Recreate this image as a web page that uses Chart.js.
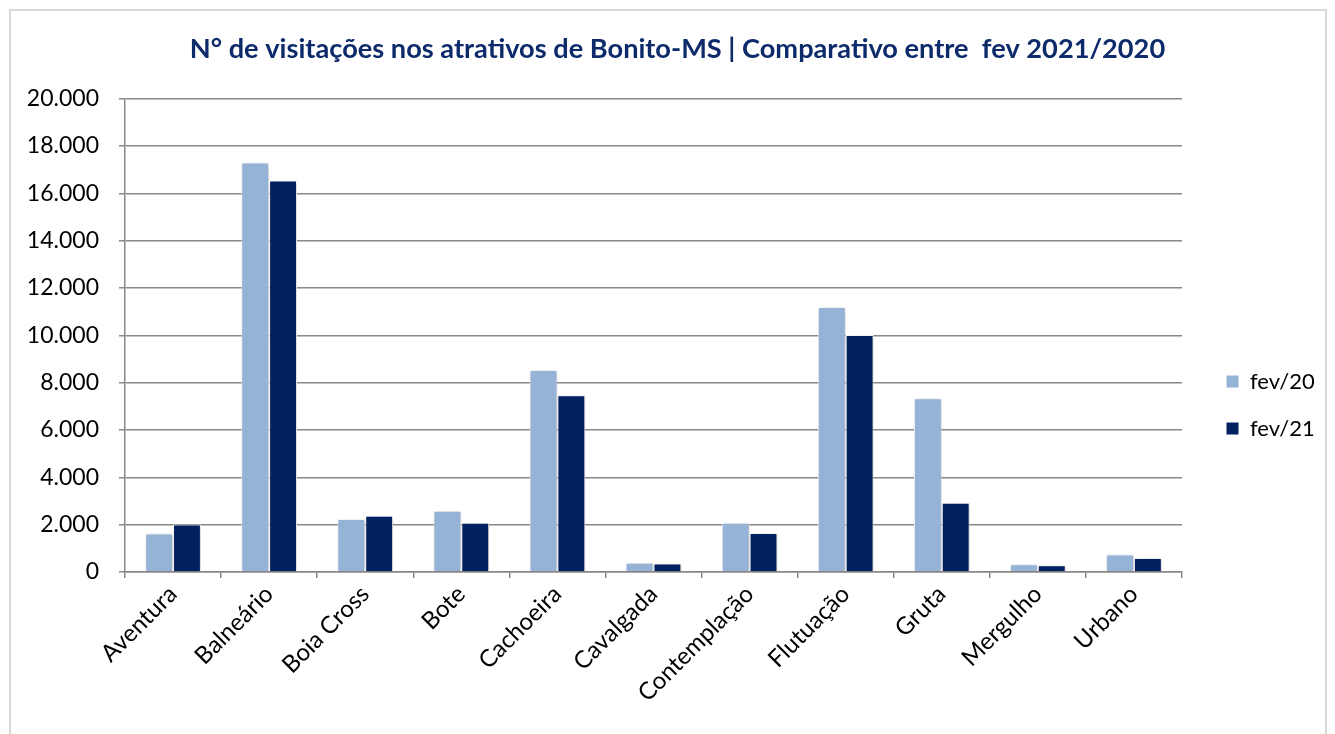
<!DOCTYPE html>
<html>
<head>
<meta charset="utf-8">
<script src="https://cdn.jsdelivr.net/npm/chart.js@4.4.1/dist/chart.umd.min.js"></script>
<style>
  html, body { margin:0; padding:0; background:#fff; overflow:hidden; }
  #frame { position:absolute; left:9px; top:9px; width:1314px; height:740px; border:2px solid #d9d9d9; }
  #wrap { position:absolute; left:0; top:0; width:1335px; height:734px; }
</style>
</head>
<body>
<div id="frame"></div>
<div id="wrap"><canvas id="chart" width="1335" height="734"></canvas></div>
<script>
/* ===== Dados ===== */
const categories = ['Aventura','Balneário','Boia Cross','Bote','Cachoeira','Cavalgada','Contemplação','Flutuação','Gruta','Mergulho','Urbano'];
const fev20 = [1630, 17300, 2240, 2590, 8530, 390, 2080, 11200, 7340, 330, 740];
const fev21 = [2010, 16540, 2380, 2080, 7470, 360, 1650, 10010, 2930, 280, 590];
const yTicks = [0, 2000, 4000, 6000, 8000, 10000, 12000, 14000, 16000, 18000, 20000];

const FONT = 'Lato, "Open Sans", sans-serif';
const fmt = v => v.toLocaleString('pt-BR');

// sombra leve nas barras
const barShadow = {
  id: 'barShadow',
  beforeDatasetsDraw(chart){
    const c = chart.ctx;
    c.save();
    c.shadowColor = 'rgba(0,0,0,0.28)';
    c.shadowBlur = 5;
    c.shadowOffsetX = 1;
    c.shadowOffsetY = 1;
  },
  afterDatasetsDraw(chart){ chart.ctx.restore(); }
};

// legenda: largura fixa e deslocamento
const legendPlace = {
  id: 'legendPlace',
  beforeLayout(chart){
    const lg = chart.legend;
    if (!lg || lg._patched) return;
    const fit = lg.fit;
    lg.fit = function(){ fit.call(this); this.width = 153; };
    lg._patched = true;
  },
  afterLayout(chart){
    const lg = chart.legend;
    if (!lg) return;
    lg.left += 19; lg.right += 19;
    lg.top += 38; lg.bottom += 38;
  }
};

new Chart(document.getElementById('chart'), {
  type: 'bar',
  data: {
    labels: categories,
    datasets: [
      { label:'fev/20', data: fev20, backgroundColor:'#95b3d7', borderColor:'#ffffff', borderWidth:1 },
      { label:'fev/21', data: fev21, backgroundColor:'#002060', borderColor:'#ffffff', borderWidth:1 }
    ]
  },
  options: {
    responsive: false,
    animation: false,
    devicePixelRatio: 1,
    layout: { padding: { left:20, right:0, top:0, bottom:0 } },
    datasets: { bar: { categoryPercentage: 0.58, barPercentage: 1 } },
    plugins: {
      title: {
        display: true,
        text: 'N° de visitações nos atrativos de Bonito-MS | Comparativo entre  fev 2021/2020',
        color: '#0d2b6b',
        font: { family: FONT, size: 27.2, weight: 'bold' },
        padding: { top: 33, bottom: 33 }
      },
      legend: {
        position: 'right',
        labels: {
          color: '#000',
          font: { family: FONT, size: 22 },
          boxWidth: 13, boxHeight: 13,
          padding: 25
        }
      },
      tooltip: { enabled:false }
    },
    scales: {
      x: {
        afterFit: s => { s.height = 162; },
        grid: { drawOnChartArea:false, drawTicks:true, tickLength:6, color:'#888', lineWidth:1.5 },
        border: { color:'#888', width:1.5 },
        ticks: { color:'#000', font:{ family: FONT, size: 24 }, minRotation:45, maxRotation:45, padding:2 }
      },
      y: {
        min: 0, max: 20000,
        afterFit: s => { s.width = 105; },
        afterBuildTicks: s => { s.ticks = yTicks.map(v => ({ value: v })); },
        grid: { color:'#888', lineWidth:1.5, tickLength:6 },
        border: { color:'#888', width:1.5 },
        ticks: { color:'#000', font:{ family: FONT, size: 23 }, padding:20, callback: v => fmt(v) }
      }
    }
  },
  plugins: [barShadow, legendPlace]
});
</script>
</body>
</html>
